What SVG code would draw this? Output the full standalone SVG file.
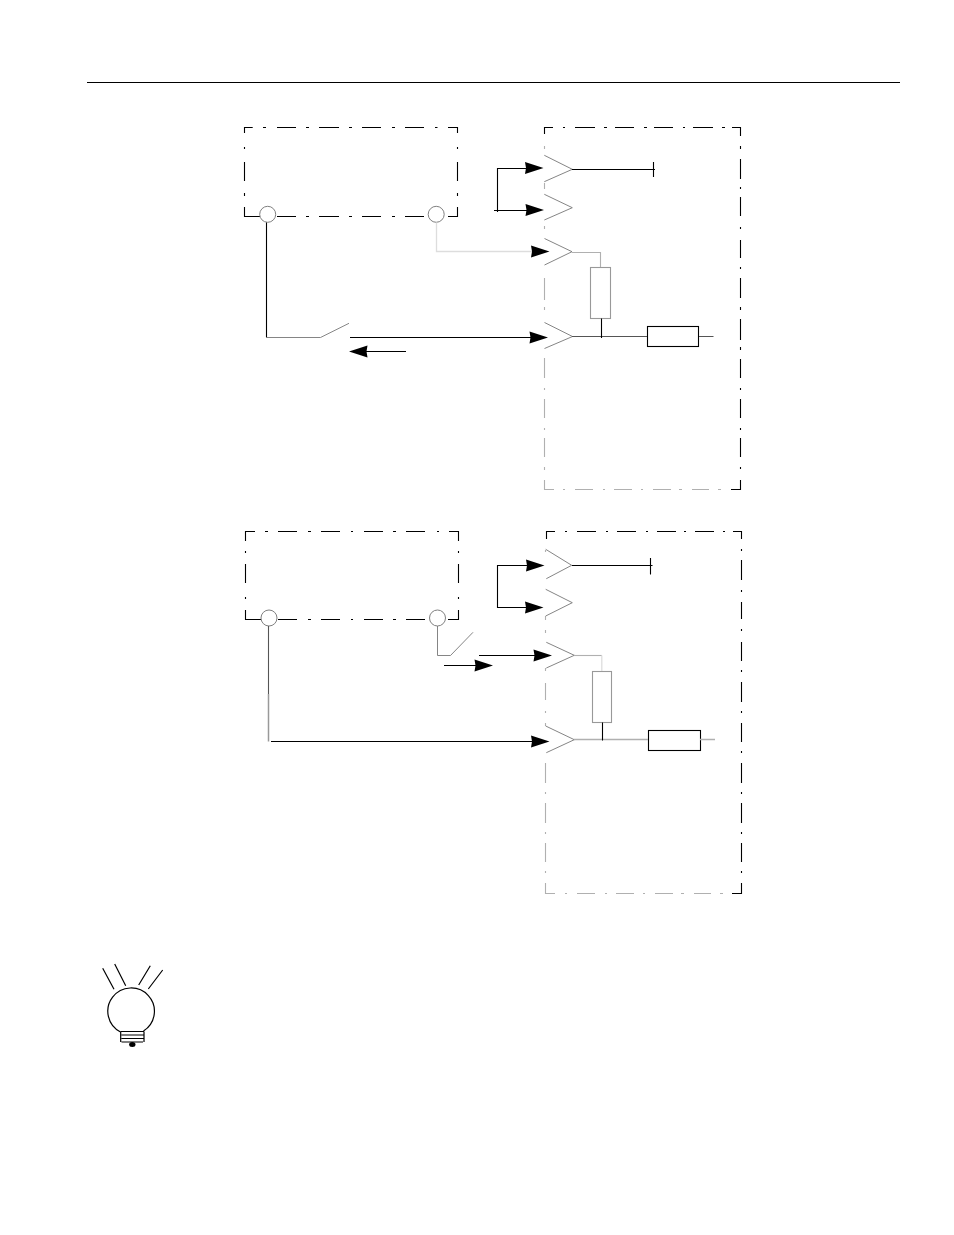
<svg xmlns="http://www.w3.org/2000/svg" width="954" height="1235" viewBox="0 0 954 1235">
<style>
.k{fill:none;stroke:#000;stroke-width:1.1}
.g{fill:none;stroke:#777;stroke-width:0.9}
.l{fill:none;stroke:#b0b0b0;stroke-width:1.1}
.p{fill:none;stroke:#ddd;stroke-width:1.3}
.d{fill:none;stroke:#555;stroke-width:1.1}
.c{fill:#fff;stroke:#808080;stroke-width:1}
.h{fill:#000;stroke:none}
</style>
<defs>
<polygon id="ah" points="0,0 -18.500,-6 -17.500,0 -18.500,6"/>
</defs>
<rect width="954" height="1235" fill="#fff"/>
<path id="header-rule" class="k" d="M87 82.500H900"/>

<g id="box-a-source">
<path class="k" d="M252.700 127.500H244.500V133M263 127.500H266M277 127.500H296M306 127.500H309M319 127.500H339M349 127.500H352M362 127.500H381M392 127.500H395M405 127.500H424M435 127.500H437.500M448 127.500H457.500V133M244.500 147V149M244.500 162V181M244.500 193V196M244.500 207V216.500H260M277 216.500H296M306 216.500H309M319 216.500H339M349 216.500H352M362 216.500H381M392 216.500H395M405 216.500H424M448 216.500H457.500V207M457.500 193V196M457.500 162V181M457.500 147V149"/>
</g>
<g id="box-a-sink">
<path class="k" d="M553 127.500H544.500V134M563 127.500H565M575 127.500H595M604 127.500H607M615 127.500H634M644 127.500H647M654 127.500H673M683 127.500H685M693 127.500H713M722 127.500H725M732 127.500H740.500V136M740.500 146V149M740.500 159V179M740.500 187V189M740.500 197V216M740.500 227V229M740.500 240V258M740.500 267V269M740.500 278V298M740.500 307V310M740.500 319V340M740.500 347V350M740.500 359V378M740.500 388V390M740.500 399V418M740.500 428V430M740.500 438V457M740.500 467V469M740.500 480V489.500H731"/>
<path class="l" d="M544.500 146V149M544.500 183V189M544.500 226V229M544.500 278V300M544.500 307V310M544.500 358V378M544.500 388V390M544.500 399V418M544.500 428V430M544.500 438V457M544.500 467V470M544.500 480V489.500H554M563 489.500H565M575 489.500H593M603 489.500H605M614 489.500H632M641 489.500H643M653 489.500H671M679 489.500H682M692 489.500H709M718 489.500H721"/>
<path class="g" d="M544.300 155.300L572.300 169.300L544.300 181.700M544.300 194.300L572.300 207.700L544.300 220M544.500 238.500L572 251.700L544.500 265M544.500 322.500L572.500 336.500L544.500 348.500"/>
</g>
<g id="terminal-a1"><circle class="c" cx="267.700" cy="214.300" r="8"/></g>
<g id="terminal-a2"><circle class="c" cx="436.200" cy="214.300" r="8"/></g>
<g id="resistor-a"><rect class="l" style="stroke:#999" x="590.500" y="267.500" width="20" height="51"/></g>
<g id="load-a"><rect class="k" x="647.500" y="326.500" width="51" height="20"/></g>

<g id="box-b-source">
<path class="k" d="M255 531.500H245.500V541M265 531.500H268M278 531.500H297M308 531.500H311M321 531.500H340M351 531.500H353M364 531.500H383M393 531.500H396M406 531.500H425M437 531.500H439M449 531.500H458.500V541M245.500 551V553M245.500 564V583M245.500 597V599M245.500 610V619.500H261M278 619.500H297M308 619.500H311M321 619.500H340M351 619.500H353M364 619.500H383M393 619.500H396M406 619.500H425M448 619.500H458.500V610M458.500 597V599M458.500 564V583M458.500 551V553"/>
</g>
<g id="box-b-sink">
<path class="k" d="M555 531.500H546.500V539M565 531.500H567M577 531.500H596M606 531.500H608M617 531.500H636M646 531.500H648M657 531.500H676M684 531.500H686M695 531.500H714M723 531.500H725M733 531.500H741.500V539M741.500 549V551M741.500 560V580M741.500 590V592M741.500 602V619M741.500 629V631M741.500 642V661M741.500 670V672M741.500 682V702M741.500 711V713M741.500 723V742M741.500 751V753M741.500 763V783M741.500 792V794M741.500 803V823M741.500 832V834M741.500 843V862M741.500 871V873M741.500 883V893.500H732"/>
<path class="l" d="M545.500 550V552M545.500 616V620M545.500 630V633M545.500 668V671M545.500 683V700M545.500 711V713M545.500 723V726M545.500 763V783M545.500 792V794M545.500 803V823M545.500 832V834M545.500 843V862M545.500 871V873M545.500 883V893.500H555M565 893.500H567M577 893.500H595M605 893.500H607M616 893.500H634M643 893.500H645M655 893.500H673M681 893.500H684M694 893.500H711M720 893.500H723"/>
<path class="g" d="M545.700 549.300L571.700 565.300L546.300 578.700M545.700 589.300L572.300 602.700L545.700 616M546.300 642.300L574.300 655.300L546.300 668M545.700 726L574.300 739.700L546.300 752.700"/>
</g>
<g id="terminal-b1"><circle class="c" cx="269" cy="618" r="8"/></g>
<g id="terminal-b2"><circle class="c" cx="437.500" cy="618" r="8"/></g>
<g id="resistor-b"><rect class="l" style="stroke:#999" x="592.500" y="671.500" width="19" height="51"/></g>
<g id="load-b"><rect class="k" x="648.500" y="730.500" width="52" height="20"/></g>

<g id="connectors">
<path class="k" d="M266.500 222.500V337.500"/>
<path class="g" d="M267 337.500H320.500L349 323.300"/>
<path class="k" d="M350 337.500H535"/>
<use class="h" href="#ah" x="548" y="337.500"/>
<path class="k" d="M406 351.500H360"/>
<use class="h" href="#ah" transform="translate(349 351.500) rotate(180)"/>
<path class="p" d="M436.500 222.500V251.500H536"/>
<use class="h" href="#ah" x="549.500" y="251.500"/>
<path class="k" d="M572 169.500H655M653.500 162V177"/>
<path class="k" d="M533 168.500H497.500V212M494 210.500H532"/>
<use class="h" href="#ah" x="543.500" y="168"/>
<use class="h" href="#ah" x="544" y="210"/>
<path class="l" d="M572 252.500H600.500V267"/>
<path class="d" d="M572 336.500H647M699 336.500H713.500"/>
<path class="k" d="M601.500 318.500V338"/>

<path class="g" d="M437.500 626V655.500H450.500L473 632.300"/>
<path class="k" d="M479 655.500H540"/>
<use class="h" href="#ah" x="552" y="655.500"/>
<path class="k" d="M444 665.500H480"/>
<use class="h" href="#ah" x="493" y="665.500"/>
<path class="d" d="M268.500 626V694"/>
<path class="l" style="stroke:#999;stroke-width:1.5" d="M268.500 694V741.500"/>
<path class="k" d="M271 741.500H538"/>
<use class="h" href="#ah" x="549.500" y="741.500"/>
<path class="k" d="M572 565.500H652.500M650.500 558V574.500"/>
<path class="k" d="M534 565.500H497.500V607.500H532"/>
<use class="h" href="#ah" x="544.500" y="565.500"/>
<use class="h" href="#ah" x="543.500" y="607.500"/>
<path class="l" d="M574 655.500H601.800"/>
<path class="p" d="M601.800 655.500V671"/>
<path class="l" style="stroke-width:1.4" d="M574 739.500H648M700 739.500H715"/>
<path class="k" d="M602.500 722.500V740.500"/>
</g>

<g id="tip-bulb">
<path fill="none" stroke="#000" stroke-width="1.200" d="M120.500 1032A23.300 23.300 0 1 1 143.500 1031M120.700 1031.500H144M121.500 1035H143.500M121.500 1038.500H143.500M121.500 1042H143M120.700 1031.500V1042M144 1031.500V1042M102.700 968.300L114 989.300M114.700 964L125.700 985.700M150.300 965.700L138.700 985M162.700 970L148.300 989"/>
<ellipse cx="132.300" cy="1044.500" rx="3.200" ry="2.500" fill="#000"/>
</g>
</svg>
